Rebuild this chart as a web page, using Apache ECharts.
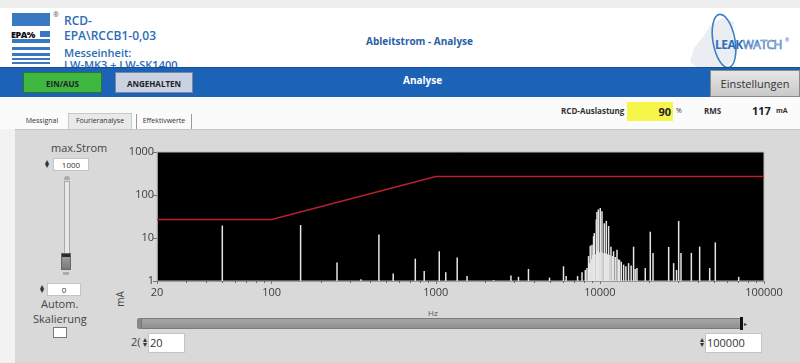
<!DOCTYPE html>
<html>
<head>
<meta charset="utf-8">
<script src="https://cdn.jsdelivr.net/npm/echarts@6/dist/echarts.min.js"></script>
<style>
  html, body { margin: 0; padding: 0; width: 800px; height: 363px; overflow: hidden; background: #f2f2f2; font-family: "Open Sans", "Noto Sans", sans-serif; }
  .abs { position: absolute; }
  #chart { position: absolute; left: 0; top: 0; width: 800px; height: 363px; z-index: 2; pointer-events: none; }
  .hdr { color: #2b6cb6; font-weight: 600; white-space: nowrap; }
  .btn { font-size: 8px; font-weight: 700; text-align: center; line-height: 21px; color: #222; }
  .num { background: #fff; border: 1px solid #c4c4c4; font-size: 8px; color: #333; box-sizing: border-box; }
  .tab { font-size: 7px; color: #333; line-height: 14px; text-align: center; white-space: nowrap; }
</style>
</head>
<body>
<!-- header -->
<div class="abs" style="left:0;top:0;width:800px;height:8px;background:#eeeeee;"></div>
<div class="abs" style="left:0;top:8px;width:800px;height:60px;background:#ffffff;"></div>

<!-- EPA logo -->
<div class="abs" style="left:12px;top:13px;width:38px;height:13px;background:#3a78c2;"></div>
<div class="abs" style="left:40px;top:31px;width:10px;height:6px;background:#3a78c2;"></div>
<div class="abs" style="left:11px;top:28px;font-size:9px;font-weight:800;color:#111;letter-spacing:-0.5px;">EPA%</div>
<div class="abs" style="left:12px;top:39px;width:38px;height:4px;background:#3a78c2;"></div>
<div class="abs" style="left:12px;top:47px;width:38px;height:3px;background:#3a78c2;"></div>
<div class="abs" style="left:12px;top:53px;width:38px;height:3px;background:#3a78c2;"></div>
<div class="abs" style="left:12px;top:58px;width:38px;height:2px;background:#3a78c2;"></div>
<div class="abs" style="left:12px;top:62px;width:38px;height:2px;background:#3a78c2;"></div>
<div class="abs" style="left:53px;top:10px;font-size:7px;color:#555;">®</div>

<div class="abs hdr" style="left:64px;top:12px;font-size:12px;">RCD-</div>
<div class="abs hdr" style="left:64px;top:27px;font-size:12px;">EPA\RCCB1-0,03</div>
<div class="abs hdr" style="left:64px;top:45px;font-size:11px;">Messeinheit:</div>
<div class="abs hdr" style="left:64px;top:57px;font-size:11px;">LW-MK3 + LW-SK1400</div>

<div class="abs hdr" style="left:366px;top:34px;font-size:10px;font-weight:700;color:#2a5fa6;">Ableitstrom - Analyse</div>

<!-- LEAKWATCH logo -->
<svg class="abs" style="left:688px;top:8px;" width="112" height="62">
  <path d="M2,54 L6,40 L14,30 L22,18 L34,10 L46,14 L44,28 L50,42 L42,56 L26,60 L10,60 Z" fill="#e6eaf0" opacity="0.85"/>
  <ellipse cx="36" cy="33" rx="11" ry="27" transform="rotate(-10 36 33)" fill="none" stroke="#3a7fc4" stroke-width="1.6"/>
  <text x="27" y="41" font-family="Open Sans, sans-serif" font-size="12" letter-spacing="-0.5" fill="#2d6db8"><tspan font-weight="700">LEAK</tspan><tspan fill="#ffffff" stroke="#2d6db8" stroke-width="0.6">WATCH</tspan></text>
  <text x="97" y="34" font-size="5" fill="#2d6db8">®</text>
</svg>

<!-- blue bar -->
<div class="abs" style="left:0;top:67px;width:800px;height:30px;background:#1c63b7;border-top:1px solid #164f94;box-sizing:border-box;"></div>
<div class="abs btn" style="left:23px;top:72px;width:79px;height:21px;background:#3fb63f;border:1px solid #2a7a2a;box-sizing:border-box;">EIN/AUS</div>
<div class="abs btn" style="left:115px;top:72px;width:78px;height:21px;background:#c9d1e2;border:1px solid #7d8598;box-sizing:border-box;">ANGEHALTEN</div>
<div class="abs" style="left:403px;top:73px;font-size:10px;font-weight:700;color:#fff;">Analyse</div>
<div class="abs" style="left:710px;top:70px;width:90px;height:27px;background:linear-gradient(#e6e6e6,#c9c9c9);border:1px solid #8a8a8a;box-sizing:border-box;font-size:11px;color:#333;text-align:center;line-height:25px;">Einstellungen</div>

<!-- status row -->
<div class="abs" style="left:0;top:97px;width:800px;height:32px;background:#fbfbfb;"></div>
<div class="abs" style="left:561px;top:105px;font-size:8px;font-weight:700;color:#333;">RCD-Auslastung</div>
<div class="abs" style="left:627px;top:102px;width:46px;height:19px;background:#f5f54a;font-size:11px;font-weight:700;color:#222;text-align:right;line-height:19px;box-sizing:border-box;padding-right:2px;">90</div>
<div class="abs" style="left:676px;top:106px;font-size:7px;color:#333;">%</div>
<div class="abs" style="left:704px;top:105px;font-size:8px;font-weight:700;color:#333;">RMS</div>
<div class="abs" style="left:752px;top:103px;font-size:11px;font-weight:700;color:#222;">117</div>
<div class="abs" style="left:776px;top:106px;font-size:7px;font-weight:700;color:#333;">mA</div>

<!-- tabs -->
<div class="abs tab" style="left:17px;top:114px;width:50px;height:14px;">Messignal</div>
<div class="abs tab" style="left:68px;top:113px;width:64px;height:16px;background:#e9e9e9;border:1px solid #c8c8c8;border-bottom:none;box-sizing:border-box;">Fourieranalyse</div>
<div class="abs tab" style="left:136px;top:114px;width:56px;height:15px;border-left:1px solid #999;border-right:1px solid #999;box-sizing:border-box;">Effektivwerte</div>

<!-- panel -->
<div class="abs" style="left:15px;top:129px;width:785px;height:234px;background:#d9d9d9;border-top:1px solid #c4c4c4;box-sizing:border-box;"></div>

<!-- left controls -->
<div class="abs" style="left:51px;top:140px;font-size:11px;color:#444;">max.Strom</div>
<div class="abs" style="left:45px;top:159px;font-size:8px;color:#333;line-height:4px;">▴<br>▾</div>
<div class="abs num" style="left:53px;top:158px;width:36px;height:13px;text-align:center;line-height:11px;">1000</div>
<div class="abs" style="left:64px;top:176px;width:6px;height:4px;background:#aaa;border-radius:3px 3px 0 0;"></div>
<div class="abs" style="left:64px;top:181px;width:4px;height:74px;background:#e8e8e8;border:1px solid #a8a8a8;"></div>
<div class="abs" style="left:61px;top:253px;width:10px;height:17px;background:linear-gradient(#2a2a2a 0,#2a2a2a 3px,#9a9a9a 3px,#7a7a7a);border:1px solid #666;box-sizing:border-box;"></div>
<div class="abs" style="left:63px;top:272px;width:6px;height:3px;background:#aaa;"></div>
<div class="abs" style="left:40px;top:284px;font-size:8px;color:#333;line-height:4px;">▴<br>▾</div>
<div class="abs num" style="left:47px;top:283px;width:34px;height:13px;text-align:center;line-height:11px;">0</div>
<div class="abs" style="left:41px;top:296px;font-size:11px;color:#444;">Autom.</div>
<div class="abs" style="left:33px;top:311px;font-size:11px;color:#444;">Skalierung</div>
<div class="abs" style="left:53px;top:327px;width:14px;height:11px;background:#fff;border:1px solid #777;box-sizing:border-box;"></div>

<!-- axis captions -->
<div class="abs" style="left:112px;top:292px;font-size:10px;color:#444;transform:rotate(-90deg);">mA</div>
<div class="abs" style="left:428px;top:307px;font-size:8px;color:#555;">Hz</div>

<!-- frequency range bar -->
<div class="abs" style="left:137px;top:318px;width:4px;height:11px;background:#888;border-radius:2px 0 0 2px;"></div>
<div class="abs" style="left:141px;top:318px;width:601px;height:11px;background:linear-gradient(#a6a6a6,#909090);border:1px solid #7a7a7a;box-sizing:border-box;"></div>
<div class="abs" style="left:740px;top:317px;width:3px;height:13px;background:#111;"></div>
<div class="abs" style="left:744px;top:320px;font-size:6px;color:#333;">▸</div>
<div class="abs" style="left:131px;top:334px;font-size:11px;color:#444;">2(</div>
<div class="abs" style="left:143px;top:336px;font-size:8px;color:#333;line-height:5px;">▴<br>▾</div>
<div class="abs num" style="left:148px;top:333px;width:37px;height:20px;font-size:11px;line-height:18px;padding-left:1px;">20</div>
<div class="abs" style="left:700px;top:336px;font-size:8px;color:#333;line-height:5px;">▴<br>▾</div>
<div class="abs num" style="left:705px;top:333px;width:57px;height:20px;font-size:11px;line-height:18px;padding-left:1px;">100000</div>

<div id="chart"></div>

<script>
// Frequency ticks shown on the spectrum axis
const freqTicks = [20, 100, 1000, 10000, 100000];
const currentTicks = [1, 10, 100, 1000];

// Trip limit curve of the RCD (Hz, mA)
const limitFreq = [20, 100, 1000, 100000];
const limitCurrent = [27, 27, 270, 270];

// Fourier spectrum lines (Hz, mA)
const spectrumFreq = [
  50, 150, 250, 350, 450, 550, 750, 850, 1050, 1150, 1350, 1550,
  2250, 2870, 3190, 3670, 4930, 6000, 6230, 7310, 7780,
  8150, 8340, 8530, 8650, 8730, 8850, 8950, 9050, 9150, 9240, 9350, 9510, 9600, 9700, 9780, 9900,
  10050, 10150, 10300, 10450, 10640, 10800, 10940, 11100, 11300, 11500, 11680, 11900, 12120, 12400,
  12710, 12950, 13180, 13500, 13950, 14400, 14950, 15500, 16040, 16400, 16820, 18900,
  20280, 21070, 26250, 28140, 29300, 30200, 31200, 36080,
  40540, 46660, 50500, 70100
];
const spectrumCurrent = [
  19.5, 20, 2.7, 1.1, 12, 1.5, 3.3, 1.7, 4.9, 1.6, 3.5, 1.3,
  1.05, 1.35, 1.25, 1.9, 1.2, 2.2, 1.3, 1.3, 1.6,
  1.8, 2.0, 3.8, 2.6, 6.6, 3.2, 7.0, 4.0, 11, 13, 4.2, 27, 40, 5.0, 46, 4.6,
  50, 4.8, 42, 4.5, 22, 4.4, 25, 4.2, 19, 4.0, 6.3, 3.8, 4.9, 3.6,
  5.3, 3.2, 3.1, 2.8, 2.4, 2.2, 2.6, 2.3, 6.3, 1.9, 2.0, 2.0,
  14, 4.5, 6.2, 2.6, 1.8, 25, 4.5, 4.5,
  6.3, 2.0, 7.9, 1.25
];

const limitData = limitFreq.map((f, i) => [f, limitCurrent[i]]);
const spectrumData = spectrumFreq.map((f, i) => [f, spectrumCurrent[i]]);

const chart = echarts.init(document.getElementById('chart'), null, { renderer: 'canvas' });
const fmt = v => String(Math.round(v));
const labelFont = { color: '#3c3c3c', fontSize: 11, fontFamily: '"Open Sans", sans-serif' };

chart.setOption({
  backgroundColor: 'transparent',
  animation: false,
  grid: {
    left: 157, top: 152, width: 607, height: 129,
    show: true, backgroundColor: '#000000', borderColor: '#bdbdbd', borderWidth: 1
  },
  xAxis: {
    type: 'log', logBase: 10, min: freqTicks[0], max: freqTicks[freqTicks.length - 1],
    axisLine: { show: true, lineStyle: { color: '#9a9a9a' } },
    axisTick: { show: true, length: 3, lineStyle: { color: '#777' } },
    minorTick: { show: true, splitNumber: 9, length: 2, lineStyle: { color: '#666' } },
    splitLine: { show: false },
    axisLabel: Object.assign({ margin: 6, formatter: fmt, showMinLabel: true, showMaxLabel: true }, labelFont)
  },
  yAxis: {
    type: 'log', logBase: 10, min: currentTicks[0], max: currentTicks[currentTicks.length - 1],
    axisLine: { show: true, lineStyle: { color: '#9a9a9a' } },
    axisTick: { show: true, length: 4, lineStyle: { color: '#777' } },
    splitLine: { show: false },
    axisLabel: Object.assign({ margin: 3, formatter: fmt }, labelFont)
  },
  series: [
    {
      name: 'Spektrum',
      type: 'custom',
      data: spectrumData,
      clip: true,
      renderItem: function (params, api) {
        const f = api.value(0);
        const top = api.coord([f, api.value(1)]);
        const base = api.coord([f, currentTicks[0]]);
        return {
          type: 'line',
          shape: { x1: top[0], y1: base[1], x2: top[0], y2: top[1] },
          style: { stroke: '#e6e6e6', lineWidth: 1.5 }
        };
      }
    },
    {
      name: 'Grenzwert',
      type: 'line',
      data: limitData,
      showSymbol: false,
      lineStyle: { color: '#b3222c', width: 1.6 },
      z: 5
    }
  ]
});
</script>
</body>
</html>
